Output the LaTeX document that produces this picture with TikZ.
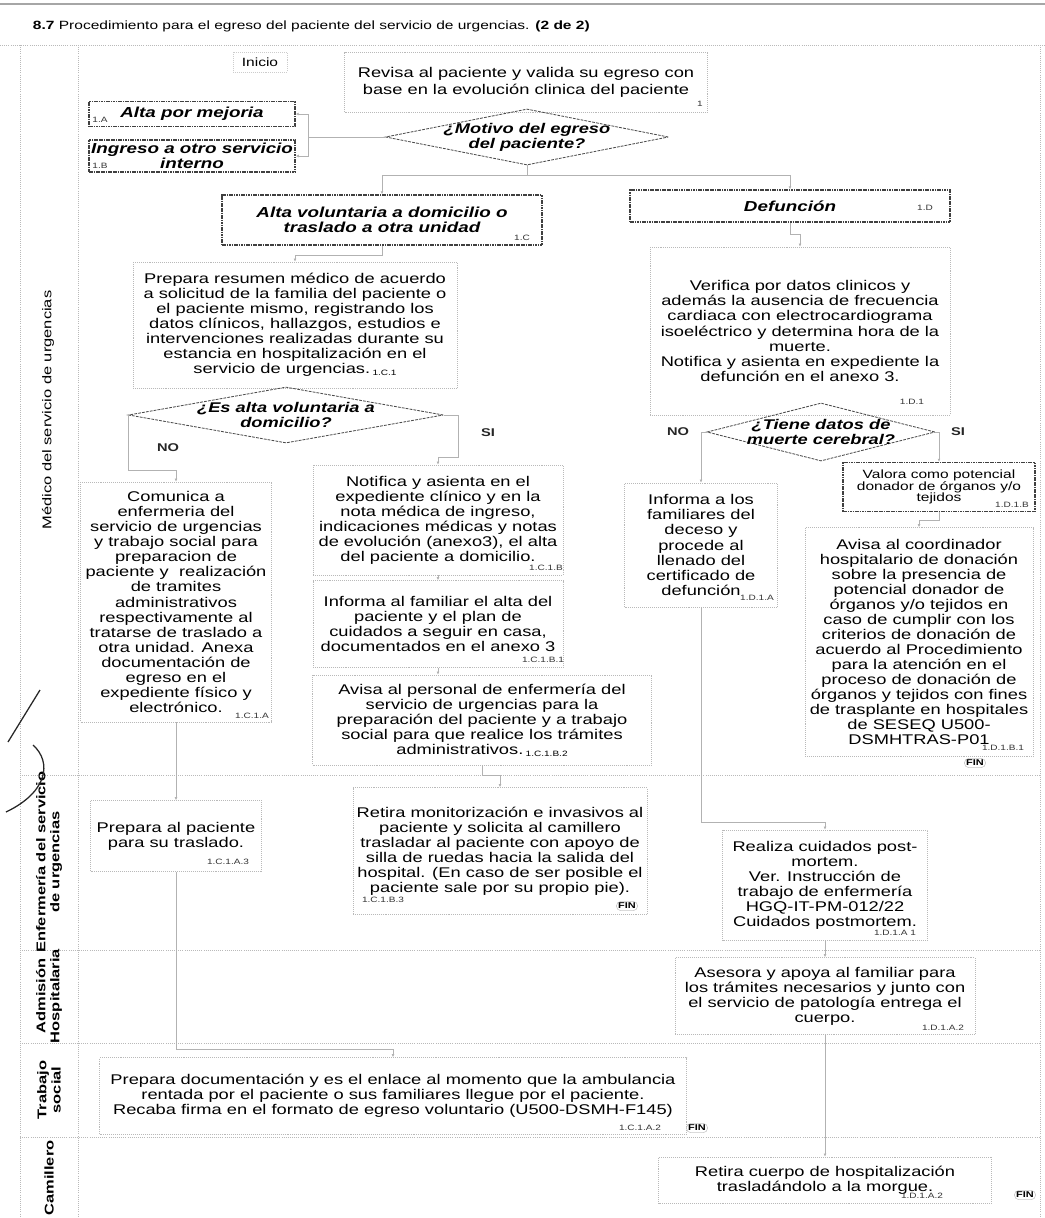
\documentclass[tikz,border=0pt]{standalone}
\usepackage{fontspec}
\setmainfont[FakeStretch=1.3]{Liberation Sans}
\usetikzlibrary{shapes.geometric,arrows.meta}

\newcommand{\lbl}[1]{{\fontsize{5.5}{6}\selectfont #1}}

\tikzset{
  wh/.style 2 args={minimum width={(#1)*0.025cm}, minimum height={(#2)*0.025cm}},
  lane/.style={draw=gray!55, densely dotted, line width=.5pt},
  actbox/.style={draw=gray!55, densely dotted, align=center, inner sep=1.5pt,
    font=\fontsize{10}{10.7}\selectfont, text=black},
  keybox/.style={draw=black!75, line width=.9pt, dash pattern=on 1.2pt off .5pt,
    align=center, inner sep=1.5pt, font=\fontsize{10.3}{11}\selectfont\bfseries\itshape},
  decision/.style={diamond, draw=black!70, dash pattern=on 2pt off .8pt, line width=.6pt, inner sep=0pt},
  dectext/.style={align=center, font=\fontsize{10}{10.5}\selectfont\bfseries\itshape, text=black},
  conn/.style={draw=gray!60, line width=.45pt, -{Latex[length=2.2pt,width=2pt]}},
  tag/.style={font=\fontsize{5.5}{6}\selectfont, inner sep=1pt, text=black!80},
  finbox/.style={draw=gray!45, rounded corners=3pt, inner sep=1.2pt, font=\fontsize{6}{6}\selectfont\bfseries},
  yn/.style={font=\fontsize{8}{8}\selectfont\bfseries, text=black!85},
  lanelabel/.style={rotate=90, align=center, font=\fontsize{9}{10}\selectfont, text=black}
}

\begin{document}
\begin{tikzpicture}[x=0.025cm, y=-0.025cm]
\useasboundingbox (0,0) rectangle (1045,1218);

% frame and lanes
\draw[gray!70, line width=1.4pt] (0,4) -- (1045,4);
\draw[lane] (0,45) -- (1045,45);
\draw[lane] (20,45) -- (20,1218);
\draw[lane] (78,45) -- (78,1218);
\draw[lane] (1040,45) -- (1040,1218);
\draw[lane] (20,775) -- (1040,775);
\draw[lane] (20,950) -- (1040,950);
\draw[lane] (20,1043) -- (1040,1043);
\draw[lane] (20,1137) -- (1040,1137);
\node[anchor=west, font=\fontsize{8.5}{9}\selectfont] (title) at (28,26)
  {\textbf{8.7} Procedimiento para el egreso del paciente del servicio de urgencias. \textbf{(2 de 2)}};

\node[lanelabel] (lmed) at (48,410) {Médico del servicio de urgencias};
\node[lanelabel, font=\fontsize{9}{10}\selectfont\bfseries] (lenf) at (49,862) {Enfermería del servicio\\de urgencias};
\node[lanelabel, font=\fontsize{9}{10}\selectfont\bfseries] (ladm) at (49,996) {Admisión\\Hospitalaria};
\node[lanelabel, font=\fontsize{9}{10}\selectfont\bfseries] (ltra) at (49,1090) {Trabajo\\social};
\node[lanelabel, font=\fontsize{9}{10}\selectfont\bfseries] (lcam) at (49,1178) {Camillero};

% pen mark
\draw[black!85, line width=.9pt] (8,742) -- (40,690);
\draw[black!85, line width=.9pt] (33,745) .. controls (52,762) and (48,792) .. (6,812);

% medico del servicio de urgencias
\node[actbox, draw=gray!40, wh={54}{20}, font=\fontsize{8.5}{9}\selectfont] (inicio) at (260,62) {Inicio};
\node[actbox, wh={363}{60}, font=\fontsize{10}{12}\selectfont] (revisa) at (526,82)
  {Revisa al paciente y valida su egreso con\\base en la evolución clinica del paciente};
\node[keybox, wh={206}{25}] (altamej) at (192,114) {Alta por mejoria};
\node[keybox, wh={206}{32}] (ingreso) at (192,156) {Ingreso a otro servicio\\interno};
\node[decision, wh={283}{56}, label={[dectext]center:{¿Motivo del egreso\\del paciente?}}] (motivo) at (527,137) {};
\node[keybox, wh={320}{50}] (altavol) at (382,220) {Alta voluntaria a domicilio o\\traslado a otra unidad};
\node[keybox, wh={320}{32}] (defun) at (790,206) {Defunción};
\node[actbox, wh={324}{126}] (prepres) at (295,325)
  {Prepara resumen médico de acuerdo\\a solicitud de la familia del paciente o\\el paciente mismo, registrando los\\datos clínicos, hallazgos, estudios e\\intervenciones realizadas durante su\\estancia en hospitalización en el\\servicio de urgencias.\,\raisebox{-1.5pt}{\lbl{1.C.1}}};
\node[decision, wh={315}{56}, label={[dectext]center:{¿Es alta voluntaria a\\domicilio?}}] (esalta) at (286,415) {};
\node[actbox, wh={300}{168}] (verif) at (800,331)
  {Verifica por datos clinicos y\\además la ausencia de frecuencia\\cardiaca con electrocardiograma\\isoeléctrico y determina hora de la\\muerte.\\Notifica y asienta en expediente la\\defunción en el anexo 3.};
\node[decision, wh={228}{58}, label={[dectext]center:{¿Tiene datos de\\muerte cerebral?}}] (tiene) at (821,432) {};
\node[actbox, wh={191}{240}] (comunica) at (176,602)
  {Comunica a\\enfermeria del\\servicio de urgencias\\y trabajo social para\\preparacion de\\paciente y\ \ realización\\de tramites\\administrativos\\respectivamente al\\tratarse de traslado a\\otra unidad. Anexa\\documentación de\\egreso en el\\expediente físico y\\electrónico.};
\node[actbox, wh={250}{110}] (notif) at (438,520)
  {Notifica y asienta en el\\expediente clínico y en la\\nota médica de ingreso,\\indicaciones médicas y notas\\de evolución (anexo3), el alta\\del paciente a domicilio.};
\node[actbox, wh={250}{87}] (infam) at (438,624)
  {Informa al familiar el alta del\\paciente y el plan de\\cuidados a seguir en casa,\\documentados en el anexo 3};
\node[actbox, wh={339}{90}] (avisap) at (482,720)
  {Avisa al personal de enfermería del\\servicio de urgencias para la\\preparación del paciente y a trabajo\\social para que realice los trámites\\administrativos.\,\raisebox{-1.5pt}{\lbl{1.C.1.B.2}}};
\node[actbox, wh={153}{124}] (infdec) at (701,545)
  {Informa a los\\familiares del\\deceso y\\procede al\\llenado del\\certificado de\\defunción};
\node[keybox, wh={192}{49}, font=\fontsize{8.5}{8.3}\selectfont] (valora) at (939,487)
  {Valora como potencial\\donador de órganos y/o\\tejidos};
\node[actbox, wh={228}{229}] (avisac) at (919,642)
  {Avisa al coordinador\\hospitalario de donación\\sobre la presencia de\\potencial donador de\\órganos y/o tejidos en\\caso de cumplir con los\\criterios de donación de\\acuerdo al Procedimiento\\para la atención en el\\proceso de donación de\\órganos y tejidos con fines\\de trasplante en hospitales\\de SESEQ U500-\\DSMHTRAS-P01};

% enfermeria del servicio de urgencias
\node[actbox, wh={171}{71}] (prepac) at (176,836) {Prepara al paciente\\para su traslado.};
\node[actbox, wh={294}{127}] (retira) at (500,851)
  {Retira monitorización e invasivos al\\paciente y solicita al camillero\\trasladar al paciente con apoyo de\\silla de ruedas hacia la salida del\\hospital. (En caso de ser posible el\\paciente sale por su propio pie).};
\node[actbox, wh={205}{110}] (realiza) at (825,885)
  {Realiza cuidados post-\\mortem.\\Ver. Instrucción de\\trabajo de enfermería\\HGQ-IT-PM-012/22\\Cuidados postmortem.};

% admision hospitalaria
\node[actbox, wh={300}{77}] (asesora) at (825,996)
  {Asesora y apoya al familiar para\\los trámites necesarios y junto con\\el servicio de patología entrega el\\cuerpo.};

% trabajo social
\node[actbox, wh={587}{77}, font=\fontsize{10}{10.5}\selectfont] (prepdoc) at (393,1096)
  {Prepara documentación y es el enlace al momento que la ambulancia\\rentada por el paciente o sus familiares llegue por el paciente.\\Recaba firma en el formato de egreso voluntario (U500-DSMH-F145)};

% camillero
\node[actbox, wh={333}{46}] (retcuer) at (825,1180) {Retira cuerpo de hospitalización\\trasladándolo a la morgue.};

% numbers
\node[tag] (trevisa) at (700,104) {1};
\node[tag] (taltamej) at (100,120) {1.A};
\node[tag] (tingreso) at (100,166) {1.B};
\node[tag] (taltavol) at (522,238) {1.C};
\node[tag] (tdefun) at (925,208) {1.D};
\node[tag] (tverif) at (912,402) {1.D.1};
\node[tag] (tcomunica) at (252,716) {1.C.1.A};
\node[tag] (tnotif) at (546,568) {1.C.1.B};
\node[tag] (tinfam) at (543,660) {1.C.1.B.1};
\node[tag] (tinfdec) at (757,598) {1.D.1.A};
\node[tag] (tvalora) at (1012,505) {1.D.1.B};
\node[tag] (tavisac) at (1003,748) {1.D.1.B.1};
\node[tag] (tprepac) at (228,862) {1.C.1.A.3};
\node[tag] (tretira) at (383,900) {1.C.1.B.3};
\node[tag] (trealiza) at (895,933) {1.D.1.A 1};
\node[tag] (tasesora) at (943,1028) {1.D.1.A.2};
\node[tag] (tprepdoc) at (640,1128) {1.C.1.A.2};
\node[tag] (tretcuer) at (922,1196) {1.D.1.A.2};

% ends
\node[finbox] (fin1) at (975,763) {FIN};
\node[finbox] (fin2) at (627,906) {FIN};
\node[finbox] (fin3) at (697,1128) {FIN};
\node[finbox] (fin4) at (1025,1195) {FIN};

\node[yn] (no1) at (168,448) {NO};
\node[yn] (si1) at (488,433) {SI};
\node[yn] (no2) at (678,432) {NO};
\node[yn] (si2) at (958,432) {SI};

% connectors
\coordinate (msplit) at (308,137);
\draw[conn] (motivo.west) -- (msplit) |- (altamej.east);
\draw[conn] (msplit) |- (ingreso.east);
\draw[conn] (motivo.south) -- ++(0,10) -| (altavol.north);
\draw[conn] (motivo.south) -- ++(0,10) -| (defun.north);
\draw[conn] (altavol.south) -- ++(0,10) -| (prepres.north);
\draw[conn] (defun.south) -- ++(0,12) -| (verif.north);
\draw[conn] (esalta.west) -- ++(0,55) -| (comunica.north);
\draw[conn] (esalta.east) -- ++(14,0) -- ++(0,42) -| (notif.north);
\draw[conn] (tiene.west) -| (infdec.north);
\draw[conn] (tiene.east) -| (valora.north);
\draw[conn] (valora.south) -- ++(0,8) -| (avisac.north);
\draw[conn] (comunica.south) -- (prepac.north);
\draw[conn] (prepac.south) -- ++(0,178) -| (prepdoc.north);
\draw[conn] (notif.south) -- (infam.north);
\draw[conn] (infam.south) -- (infam.south |- avisap.north);
\draw[conn] (avisap.south) -- ++(0,10) -| (retira.north);
\draw[conn] (infdec.south) -- ++(0,215) -| (realiza.north);
\draw[conn] (realiza.south) -- (asesora.north);
\draw[conn] (asesora.south) -- (retcuer.north);
\end{tikzpicture}
\end{document}
